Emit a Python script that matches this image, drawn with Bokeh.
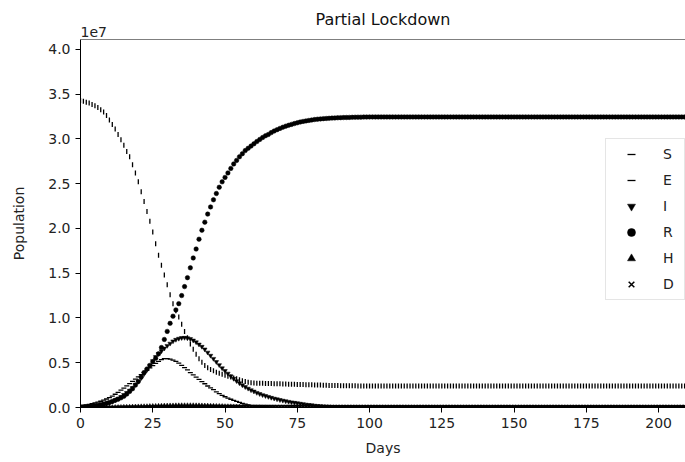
import math
from bokeh.plotting import figure
from bokeh.models import (ColumnDataSource, FixedTicker, CustomJSTickFormatter, Legend,
                          LegendItem, Span, Range1d, Title)
from bokeh.embed import file_html
from bokeh.resources import INLINE

# Day index 0..209, values in millions of people
days = list(range(210))

S_m = [
    34.3, 34.2, 34.1, 34.0, 33.85, 33.7, 33.5, 33.25, 33.0, 32.6,
    32.1, 31.6, 31.1, 30.5, 29.9, 29.3, 28.6, 28.0, 27.1, 26.2,
    25.2, 24.1, 23.0, 21.9, 20.8, 19.6, 18.3, 17.0, 15.9, 14.8,
    13.7, 12.6, 11.6, 10.8, 10.1, 9.3, 8.5, 7.8, 7.1, 6.5,
    5.95, 5.45, 5.05, 4.7, 4.45, 4.25, 4.1, 3.95, 3.82, 3.7,
    3.6, 3.5, 3.4, 3.3, 3.2, 3.1, 3.0, 2.9, 2.82, 2.77,
    2.73, 2.71, 2.7, 2.7, 2.69, 2.68, 2.67, 2.66, 2.65, 2.64,
    2.63, 2.62, 2.61, 2.6, 2.59, 2.58, 2.57, 2.56, 2.55, 2.54,
    2.53, 2.52, 2.51, 2.5, 2.49, 2.48, 2.47, 2.46, 2.45, 2.45,
    2.44, 2.44, 2.43, 2.43, 2.42, 2.42, 2.41, 2.41, 2.4, 2.4,
    2.4, 2.4, 2.4, 2.4, 2.4, 2.4, 2.4, 2.4, 2.4, 2.4,
    2.4, 2.4, 2.4, 2.4, 2.4, 2.4, 2.4, 2.4, 2.4, 2.4,
    2.4, 2.4, 2.4, 2.4, 2.4, 2.4, 2.4, 2.4, 2.4, 2.4,
    2.4, 2.4, 2.4, 2.4, 2.4, 2.4, 2.4, 2.4, 2.4, 2.4,
    2.4, 2.4, 2.4, 2.4, 2.4, 2.4, 2.4, 2.4, 2.4, 2.4,
    2.4, 2.4, 2.4, 2.4, 2.4, 2.4, 2.4, 2.4, 2.4, 2.4,
    2.4, 2.4, 2.4, 2.4, 2.4, 2.4, 2.4, 2.4, 2.4, 2.4,
    2.4, 2.4, 2.4, 2.4, 2.4, 2.4, 2.4, 2.4, 2.4, 2.4,
    2.4, 2.4, 2.4, 2.4, 2.4, 2.4, 2.4, 2.4, 2.4, 2.4,
    2.4, 2.4, 2.4, 2.4, 2.4, 2.4, 2.4, 2.4, 2.4, 2.4,
    2.4, 2.4, 2.4, 2.4, 2.4, 2.4, 2.4, 2.4, 2.4, 2.4,
]

E_m = [
    0.2, 0.25, 0.3, 0.35, 0.42, 0.5, 0.6, 0.7, 0.82, 0.95,
    1.1, 1.28, 1.48, 1.7, 1.93, 2.17, 2.42, 2.67, 2.92, 3.17,
    3.42, 3.67, 3.92, 4.17, 4.42, 4.67, 4.92, 5.15, 5.35, 5.45,
    5.45, 5.4, 5.3, 5.15, 4.95, 4.7, 4.45, 4.2, 3.9, 3.65,
    3.4, 3.15, 2.9, 2.65, 2.4, 2.2, 2.0, 1.75, 1.55, 1.35,
    1.2, 1.05, 0.92, 0.8, 0.68, 0.57, 0.47, 0.38, 0.3, 0.22,
    0.17, 0.13, 0.1, 0.08, 0.06, 0.05, 0.04, 0.03, 0.02, 0.02,
    0.01, 0.01, 0.01, 0.01, 0.01, 0.01, 0, 0, 0, 0,
    0, 0, 0, 0, 0, 0, 0, 0, 0, 0,
    0, 0, 0, 0, 0, 0, 0, 0, 0, 0,
    0, 0, 0, 0, 0, 0, 0, 0, 0, 0,
    0, 0, 0, 0, 0, 0, 0, 0, 0, 0,
    0, 0, 0, 0, 0, 0, 0, 0, 0, 0,
    0, 0, 0, 0, 0, 0, 0, 0, 0, 0,
    0, 0, 0, 0, 0, 0, 0, 0, 0, 0,
    0, 0, 0, 0, 0, 0, 0, 0, 0, 0,
    0, 0, 0, 0, 0, 0, 0, 0, 0, 0,
    0, 0, 0, 0, 0, 0, 0, 0, 0, 0,
    0, 0, 0, 0, 0, 0, 0, 0, 0, 0,
    0, 0, 0, 0, 0, 0, 0, 0, 0, 0,
    0, 0, 0, 0, 0, 0, 0, 0, 0, 0,
]

I_m = [
    0.05, 0.07, 0.09, 0.12, 0.15, 0.19, 0.24, 0.3, 0.37, 0.45,
    0.55, 0.67, 0.82, 1.0, 1.2, 1.42, 1.65, 1.9, 2.2, 2.55,
    2.9, 3.3, 3.75, 4.2, 4.7, 5.2, 5.65, 6.0, 6.3, 6.6,
    6.9, 7.15, 7.4, 7.58, 7.7, 7.78, 7.8, 7.76, 7.66, 7.5,
    7.3, 7.05, 6.8, 6.5, 6.15, 5.8, 5.45, 5.1, 4.75, 4.4,
    4.1, 3.8, 3.5, 3.22, 2.96, 2.72, 2.5, 2.3, 2.12, 1.95,
    1.8, 1.65, 1.52, 1.4, 1.3, 1.2, 1.1, 1.01, 0.93, 0.85,
    0.78, 0.71, 0.65, 0.59, 0.54, 0.49, 0.44, 0.39, 0.34, 0.3,
    0.26, 0.22, 0.19, 0.16, 0.14, 0.12, 0.1, 0.08, 0.07, 0.06,
    0.05, 0.04, 0.035, 0.03, 0.025, 0.02, 0.015, 0.015, 0.01, 0.01,
    0, 0, 0, 0, 0, 0, 0, 0, 0, 0,
    0, 0, 0, 0, 0, 0, 0, 0, 0, 0,
    0, 0, 0, 0, 0, 0, 0, 0, 0, 0,
    0, 0, 0, 0, 0, 0, 0, 0, 0, 0,
    0, 0, 0, 0, 0, 0, 0, 0, 0, 0,
    0, 0, 0, 0, 0, 0, 0, 0, 0, 0,
    0, 0, 0, 0, 0, 0, 0, 0, 0, 0,
    0, 0, 0, 0, 0, 0, 0, 0, 0, 0,
    0, 0, 0, 0, 0, 0, 0, 0, 0, 0,
    0, 0, 0, 0, 0, 0, 0, 0, 0, 0,
    0, 0, 0, 0, 0, 0, 0, 0, 0, 0,
]

R_m = [
    0.0, 0.02, 0.05, 0.08, 0.12, 0.17, 0.23, 0.3, 0.38, 0.47,
    0.57, 0.68, 0.8, 0.93, 1.08, 1.25, 1.5, 1.8, 2.1, 2.5,
    2.9, 3.4, 3.9, 4.3, 4.7, 5.1, 5.5, 6.0, 6.7, 7.6,
    8.5, 9.4, 10.2, 10.9, 11.6, 12.5, 13.5, 14.5, 15.6, 16.7,
    17.7, 18.8, 19.8, 20.7, 21.6, 22.4, 23.2, 23.9, 24.6, 25.2,
    25.7, 26.2, 26.7, 27.2, 27.6, 28.0, 28.35, 28.7, 28.95, 29.2,
    29.45, 29.7, 29.93, 30.15, 30.35, 30.5, 30.7, 30.88, 31.03, 31.17,
    31.3, 31.42, 31.52, 31.62, 31.71, 31.8, 31.88, 31.95, 32.01, 32.06,
    32.11, 32.16, 32.2, 32.23, 32.26, 32.28, 32.3, 32.32, 32.34, 32.36,
    32.37, 32.38, 32.39, 32.4, 32.41, 32.42, 32.43, 32.43, 32.44, 32.44,
    32.45, 32.45, 32.45, 32.45, 32.45, 32.45, 32.45, 32.45, 32.45, 32.45,
    32.45, 32.45, 32.45, 32.45, 32.45, 32.45, 32.45, 32.45, 32.45, 32.45,
    32.45, 32.45, 32.45, 32.45, 32.45, 32.45, 32.45, 32.45, 32.45, 32.45,
    32.45, 32.45, 32.45, 32.45, 32.45, 32.45, 32.45, 32.45, 32.45, 32.45,
    32.45, 32.45, 32.45, 32.45, 32.45, 32.45, 32.45, 32.45, 32.45, 32.45,
    32.45, 32.45, 32.45, 32.45, 32.45, 32.45, 32.45, 32.45, 32.45, 32.45,
    32.45, 32.45, 32.45, 32.45, 32.45, 32.45, 32.45, 32.45, 32.45, 32.45,
    32.45, 32.45, 32.45, 32.45, 32.45, 32.45, 32.45, 32.45, 32.45, 32.45,
    32.45, 32.45, 32.45, 32.45, 32.45, 32.45, 32.45, 32.45, 32.45, 32.45,
    32.45, 32.45, 32.45, 32.45, 32.45, 32.45, 32.45, 32.45, 32.45, 32.45,
    32.45, 32.45, 32.45, 32.45, 32.45, 32.45, 32.45, 32.45, 32.45, 32.45,
]

H_m = [
    0, 0, 0, 0.01, 0.01, 0.01, 0.01, 0.02, 0.02, 0.02,
    0.03, 0.03, 0.04, 0.04, 0.05, 0.06, 0.07, 0.08, 0.09, 0.1,
    0.11, 0.12, 0.13, 0.14, 0.15, 0.16, 0.17, 0.18, 0.19, 0.2,
    0.21, 0.22, 0.22, 0.23, 0.23, 0.24, 0.24, 0.24, 0.24, 0.24,
    0.23, 0.23, 0.22, 0.21, 0.2, 0.19, 0.18, 0.17, 0.16, 0.15,
    0.14, 0.13, 0.12, 0.11, 0.1, 0.09, 0.08, 0.07, 0.06, 0.05,
    0.05, 0.04, 0.04, 0.03, 0.03, 0.02, 0.02, 0.02, 0.01, 0.01,
    0.01, 0.01, 0.01, 0.01, 0.01, 0.01, 0.01, 0.01, 0.01, 0.01,
    0, 0, 0, 0, 0, 0, 0, 0, 0, 0,
    0, 0, 0, 0, 0, 0, 0, 0, 0, 0,
    0, 0, 0, 0, 0, 0, 0, 0, 0, 0,
    0, 0, 0, 0, 0, 0, 0, 0, 0, 0,
    0, 0, 0, 0, 0, 0, 0, 0, 0, 0,
    0, 0, 0, 0, 0, 0, 0, 0, 0, 0,
    0, 0, 0, 0, 0, 0, 0, 0, 0, 0,
    0, 0, 0, 0, 0, 0, 0, 0, 0, 0,
    0, 0, 0, 0, 0, 0, 0, 0, 0, 0,
    0, 0, 0, 0, 0, 0, 0, 0, 0, 0,
    0, 0, 0, 0, 0, 0, 0, 0, 0, 0,
    0, 0, 0, 0, 0, 0, 0, 0, 0, 0,
    0, 0, 0, 0, 0, 0, 0, 0, 0, 0,
]

D_m = [
    0, 0, 0, 0, 0, 0, 0, 0, 0, 0,
    0, 0, 0, 0.01, 0.01, 0.01, 0.01, 0.01, 0.01, 0.02,
    0.02, 0.02, 0.02, 0.03, 0.03, 0.03, 0.04, 0.04, 0.04, 0.05,
    0.05, 0.05, 0.06, 0.06, 0.06, 0.07, 0.07, 0.07, 0.08, 0.08,
    0.08, 0.08, 0.09, 0.09, 0.09, 0.09, 0.1, 0.1, 0.1, 0.1,
    0.1, 0.1, 0.11, 0.11, 0.11, 0.11, 0.11, 0.11, 0.11, 0.11,
    0.11, 0.11, 0.11, 0.11, 0.11, 0.11, 0.11, 0.11, 0.11, 0.11,
    0.11, 0.11, 0.11, 0.11, 0.11, 0.11, 0.11, 0.11, 0.11, 0.11,
    0.11, 0.11, 0.11, 0.11, 0.11, 0.11, 0.11, 0.11, 0.11, 0.11,
    0.11, 0.11, 0.11, 0.11, 0.11, 0.11, 0.11, 0.11, 0.11, 0.11,
    0.11, 0.11, 0.11, 0.11, 0.11, 0.11, 0.11, 0.11, 0.11, 0.11,
    0.11, 0.11, 0.11, 0.11, 0.11, 0.11, 0.11, 0.11, 0.11, 0.11,
    0.11, 0.11, 0.11, 0.11, 0.11, 0.11, 0.11, 0.11, 0.11, 0.11,
    0.11, 0.11, 0.11, 0.11, 0.11, 0.11, 0.11, 0.11, 0.11, 0.11,
    0.11, 0.11, 0.11, 0.11, 0.11, 0.11, 0.11, 0.11, 0.11, 0.11,
    0.11, 0.11, 0.11, 0.11, 0.11, 0.11, 0.11, 0.11, 0.11, 0.11,
    0.11, 0.11, 0.11, 0.11, 0.11, 0.11, 0.11, 0.11, 0.11, 0.11,
    0.11, 0.11, 0.11, 0.11, 0.11, 0.11, 0.11, 0.11, 0.11, 0.11,
    0.11, 0.11, 0.11, 0.11, 0.11, 0.11, 0.11, 0.11, 0.11, 0.11,
    0.11, 0.11, 0.11, 0.11, 0.11, 0.11, 0.11, 0.11, 0.11, 0.11,
    0.11, 0.11, 0.11, 0.11, 0.11, 0.11, 0.11, 0.11, 0.11, 0.11,
]

x_ticks = [0, 25, 50, 75, 100, 125, 150, 175, 200]
y_ticks = [0, 5e6, 1e7, 1.5e7, 2e7, 2.5e7, 3e7, 3.5e7, 4e7]

M = 1e6
src = ColumnDataSource(dict(
    day=days,
    S=[v * M for v in S_m], E=[v * M for v in E_m], I=[v * M for v in I_m],
    R=[v * M for v in R_m], H=[v * M for v in H_m], D=[v * M for v in D_m],
))

FONT = "DejaVu Sans"
p = figure(width=685, height=462, output_backend="svg", toolbar_location=None,
           x_range=Range1d(0, 209.3), y_range=Range1d(0, 4.11e7),
           min_border_left=80, min_border_right=0, min_border_top=39,
           min_border_bottom=55, title="Partial Lockdown")
p.title.align = "center"
p.title.text_font = FONT
p.title.text_font_size = "16px"
p.title.text_font_style = "normal"
p.title.text_color = "#111111"
p.title.standoff = -15

# scale-exponent text above the y axis
p.add_layout(Title(text="1e7", align="left", text_font=FONT, text_font_size="14px",
                   text_font_style="normal", text_color="#222222", standoff=6),
             "above")

p.xgrid.visible = False
p.ygrid.visible = False
p.outline_line_color = None
p.add_layout(Span(location=4.11e7, dimension="width", line_color="black", line_width=1))

for ax in (p.xaxis[0], p.yaxis[0]):
    ax.axis_line_color = "black"
    ax.major_tick_line_color = "black"
    ax.minor_tick_line_color = None
    ax.major_tick_out = 5
    ax.major_tick_in = 0
    ax.major_label_text_font = FONT
    ax.major_label_text_font_size = "14px"
    ax.major_label_text_color = "#222222"
    ax.axis_label_text_font = FONT
    ax.axis_label_text_font_size = "14px"
    ax.axis_label_text_font_style = "normal"
    ax.axis_label_text_color = "#222222"

p.xaxis.ticker = FixedTicker(ticks=x_ticks)
p.yaxis.ticker = FixedTicker(ticks=y_ticks)
p.yaxis.formatter = CustomJSTickFormatter(code="return (tick/1e7).toFixed(1);")
p.xaxis.axis_label = "Days"
p.yaxis.axis_label = "Population"
p.xaxis.axis_label_standoff = 9
p.yaxis.axis_label_standoff = 18

rS = p.scatter("day", "S", source=src, marker="dash", angle=math.pi / 2, size=5,
               line_color="black", line_width=1.3)
rE = p.scatter("day", "E", source=src, marker="dash", size=5,
               line_color="black", line_width=1.3)
rI = p.scatter("day", "I", source=src, marker="inverted_triangle", size=4.5,
               line_color="black", fill_color="black", line_width=0.5)
rR = p.scatter("day", "R", source=src, marker="circle", size=4.5,
               line_color="black", fill_color="black", line_width=0.5)
rH = p.scatter("day", "H", source=src, marker="triangle", size=4.5,
               line_color="black", fill_color="black", line_width=0.5)
rD = p.scatter("day", "D", source=src, marker="x", size=4.5,
               line_color="black", line_width=1.5)

legend = Legend(items=[
    LegendItem(label="S", renderers=[rS]),
    LegendItem(label="E", renderers=[rE]),
    LegendItem(label="I", renderers=[rI]),
    LegendItem(label="R", renderers=[rR]),
    LegendItem(label="H", renderers=[rH]),
    LegendItem(label="D", renderers=[rD]),
], location=(525, 107))
legend.label_text_font = FONT
legend.label_text_font_size = "14px"
legend.label_text_color = "#222222"
legend.glyph_width = 40
legend.glyph_height = 20
legend.label_height = 20
legend.label_width = 16
legend.label_standoff = 12
legend.spacing = 6
legend.padding = 5
legend.margin = 0
legend.border_line_color = "#cccccc"
legend.background_fill_alpha = 0.8
p.add_layout(legend)

open("out.html", "w").write(file_html(p, INLINE))
